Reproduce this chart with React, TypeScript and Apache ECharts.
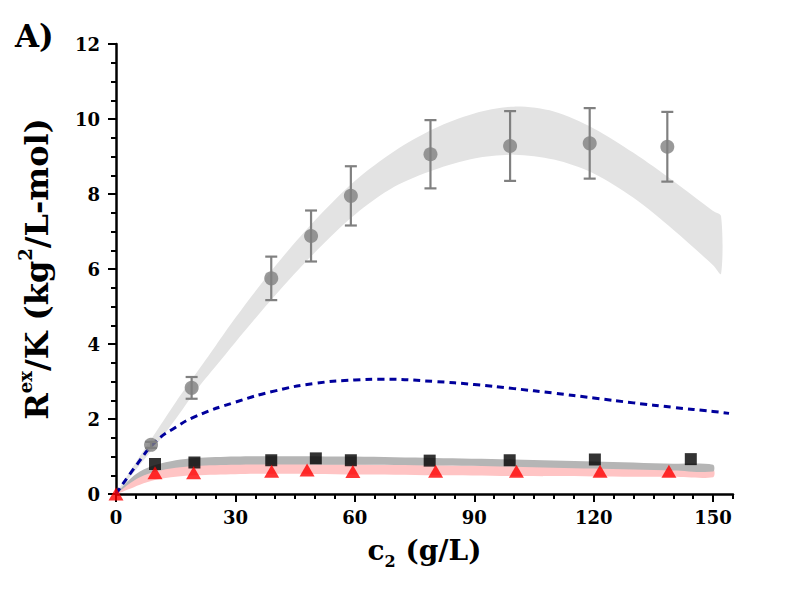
import React, { useEffect, useRef } from "react";
import * as echarts from "echarts";

// Gray circles (with error bars)
const circX = [8.8, 19, 39, 49, 59, 79, 99, 119, 138.5];
const circY = [1.31, 2.83, 5.75, 6.88, 7.95, 9.06, 9.28, 9.35, 9.26];
const circErr = [0.08, 0.29, 0.58, 0.68, 0.79, 0.91, 0.93, 0.94, 0.93];

// Black squares
const sqX = [9.8, 19.7, 39, 50.2, 59, 78.8, 98.9, 120.3, 144.4];
const sqY = [0.8, 0.84, 0.9, 0.95, 0.9, 0.89, 0.9, 0.92, 0.93];

// Red triangles
const triX = [0, 9.8, 19.5, 39.1, 48, 59.5, 80.3, 100.6, 121.6, 138.9];
const triY = [0, 0.57, 0.57, 0.61, 0.64, 0.6, 0.61, 0.61, 0.61, 0.61];

// Light gray confidence band (circles)
const bandCX = [0, 5, 10, 15, 20, 25, 30, 40, 50, 60, 70, 80, 90, 100, 110, 120, 130, 140, 150, 152];
const bandCUp = [0, 0.85, 1.65, 2.45, 3.2, 3.95, 4.7, 6.08, 7.3, 8.35, 9.15, 9.75, 10.15, 10.33, 10.2, 9.75, 9.1, 8.35, 7.55, 7.41];
const bandCLo = [0, 0.65, 1.3, 2.0, 2.75, 3.4, 4.05, 5.3, 6.45, 7.45, 8.2, 8.65, 8.95, 9.05, 8.92, 8.55, 7.9, 7.05, 6.1, 5.87];

// Gray band (squares) and pink band (triangles)
const bandSX = [0, 3, 6, 10, 15, 20, 30, 40, 60, 80, 100, 120, 140, 150];
const bandSUp = [0, 0.35, 0.6, 0.78, 0.9, 0.96, 1.0, 1.01, 1.0, 0.96, 0.92, 0.87, 0.81, 0.78];
const bandSLo = [0, 0.25, 0.45, 0.6, 0.7, 0.75, 0.78, 0.79, 0.78, 0.76, 0.73, 0.68, 0.63, 0.6];
const bandTUp = [0, 0.3, 0.5, 0.66, 0.75, 0.78, 0.8, 0.8, 0.79, 0.77, 0.75, 0.72, 0.68, 0.66];
const bandTLo = [0, 0.12, 0.25, 0.38, 0.46, 0.5, 0.53, 0.54, 0.52, 0.5, 0.48, 0.47, 0.46, 0.45];

// Blue dashed curve
const blueX = [0, 5, 10, 15, 20, 30, 40, 50, 60, 67, 80, 90, 100, 110, 120, 130, 140, 150, 154];
const blueY = [0, 0.75, 1.4, 1.78, 2.07, 2.45, 2.75, 2.95, 3.04, 3.06, 3.0, 2.92, 2.81, 2.69, 2.56, 2.43, 2.31, 2.2, 2.15];

const xMajor = [0, 30, 60, 90, 120, 150];
const xMinor = [5, 10, 15, 20, 25, 35, 40, 45, 50, 55, 65, 70, 75, 80, 85, 95, 100, 105, 110, 115, 125, 130, 135, 140, 145, 155];

const FONT = "DejaVu Serif";

function bandSeries(xs: number[], lo: number[], up: number[], color: string, z: number) {
  return {
    type: "custom",
    data: xs.map((x, i) => [x, lo[i], up[i]]),
    encode: { x: 0, y: [1, 2] },
    z,
    silent: true,
    clip: true,
    renderItem: (params: any, api: any) => {
      if (params.dataIndex !== 0) return undefined;
      const pts: number[][] = [];
      for (let i = 0; i < xs.length; i++) pts.push(api.coord([xs[i], up[i]]));
      for (let i = xs.length - 1; i >= 0; i--) {
        if (lo[i] === up[i]) continue; // skip duplicated point (origin)
        pts.push(api.coord([xs[i], lo[i]]));
      }
      return {
        type: "polygon",
        shape: { points: pts, smooth: 0.3 },
        style: { fill: color, stroke: "none" },
      };
    },
  };
}

export default function App() {
  const ref = useRef<HTMLDivElement>(null);
  useEffect(() => {
    if (!ref.current) return;
    const chart = echarts.init(ref.current, undefined, { renderer: "svg" });
    const axisLabelStyle = { fontFamily: FONT, fontWeight: "bold", fontSize: 18, color: "#000" };
    const option: any = {
      animation: false,
      backgroundColor: "#fff",
      title: {
        text: "A)",
        left: 10,
        top: 15,
        textStyle: { fontFamily: FONT, fontWeight: "bold", fontSize: 31, color: "#000" },
      },
      grid: { left: 116, right: 67, top: 44, bottom: 112, containLabel: false },
      xAxis: [
        {
          type: "value",
          min: 0,
          max: 155,
          splitLine: { show: false },
          axisLine: { show: true, onZero: false, lineStyle: { color: "#000", width: 2.5 } },
          axisTick: { show: true, customValues: xMajor, length: 8, lineStyle: { color: "#000", width: 2 } },
          axisLabel: { customValues: xMajor, margin: 14, ...axisLabelStyle },
          name: "{m|c}{s|2}{m| (g/L)}",
          nameLocation: "middle",
          nameGap: 37,
          nameTextStyle: {
            fontFamily: FONT,
            fontWeight: "bold",
            fontSize: 28,
            color: "#000",
            rich: {
              m: { fontFamily: FONT, fontWeight: "bold", fontSize: 28, lineHeight: 38, color: "#000", verticalAlign: "middle" },
              s: { fontFamily: FONT, fontWeight: "bold", fontSize: 16, lineHeight: 20, color: "#000", verticalAlign: "bottom" },
            },
          },
        },
        {
          type: "value",
          min: 0,
          max: 155,
          position: "bottom",
          splitLine: { show: false },
          axisLine: { show: false },
          axisTick: { show: true, customValues: xMinor, length: 5, lineStyle: { color: "#000", width: 2 } },
          axisLabel: { show: false },
        },
      ],
      yAxis: {
        type: "value",
        min: 0,
        max: 12,
        interval: 2,
        splitLine: { show: false },
        axisLine: { show: true, onZero: false, lineStyle: { color: "#000", width: 2.5 } },
        axisTick: { show: true, length: 8, lineStyle: { color: "#000", width: 2 } },
        minorTick: { show: true, splitNumber: 4, length: 5, lineStyle: { color: "#000", width: 2 } },
        axisLabel: { margin: 16, ...axisLabelStyle },
        name: "{m|R}{p|ex}{m|/K (kg}{p|2}{m|/L-mol)}",
        nameLocation: "middle",
        nameGap: 58,
        nameTextStyle: {
          fontFamily: FONT,
          fontWeight: "bold",
          fontSize: 32,
          color: "#000",
          rich: {
            m: { fontFamily: FONT, fontWeight: "bold", fontSize: 32, lineHeight: 42, color: "#000", verticalAlign: "middle" },
            p: { fontFamily: FONT, fontWeight: "bold", fontSize: 18, lineHeight: 26, color: "#000", verticalAlign: "top" },
          },
        },
      },
      series: [
        bandSeries(bandCX, bandCLo, bandCUp, "#e3e3e3", 1),
        bandSeries(bandSX, bandTLo, bandTUp, "#ffc4c4", 1),
        bandSeries(bandSX, bandSLo, bandSUp, "#b5b5b5", 1),
        {
          type: "line",
          smooth: true,
          symbol: "none",
          data: blueX.map((x, i) => [x, blueY[i]]),
          lineStyle: { color: "#00009c", width: 3, type: [7, 5] },
          z: 3,
        },
        {
          type: "custom",
          data: circX.map((x, i) => [x, circY[i], circErr[i]]),
          encode: { x: 0, y: 1 },
          z: 4,
          renderItem: (params: any, api: any) => {
            const x = api.value(0);
            const y = api.value(1);
            const e = api.value(2);
            const t = api.coord([x, y + e]);
            const b = api.coord([x, y - e]);
            const w = 6;
            const st = { stroke: "#808080", lineWidth: 2.2 };
            return {
              type: "group",
              children: [
                { type: "line", shape: { x1: t[0], y1: t[1], x2: b[0], y2: b[1] }, style: st },
                { type: "line", shape: { x1: t[0] - w, y1: t[1], x2: t[0] + w, y2: t[1] }, style: st },
                { type: "line", shape: { x1: b[0] - w, y1: b[1], x2: b[0] + w, y2: b[1] }, style: st },
              ],
            };
          },
        },
        {
          type: "scatter",
          data: circX.map((x, i) => [x, circY[i]]),
          symbol: "circle",
          symbolSize: 14,
          itemStyle: { color: "#808080" },
          z: 5,
        },
        {
          type: "scatter",
          data: sqX.map((x, i) => [x, sqY[i]]),
          symbol: "rect",
          symbolSize: 12,
          itemStyle: { color: "#000" },
          z: 5,
        },
        {
          type: "scatter",
          data: triX.map((x, i) => [x, triY[i]]),
          symbol: "triangle",
          symbolSize: [15, 13],
          itemStyle: { color: "#ff0000" },
          z: 6,
          clip: false,
        },
      ],
    };
    chart.setOption(option);
    return () => chart.dispose();
  }, []);
  return <div ref={ref} style={{ position: "fixed", left: 0, top: 0, width: 800, height: 606 }} />;
}
